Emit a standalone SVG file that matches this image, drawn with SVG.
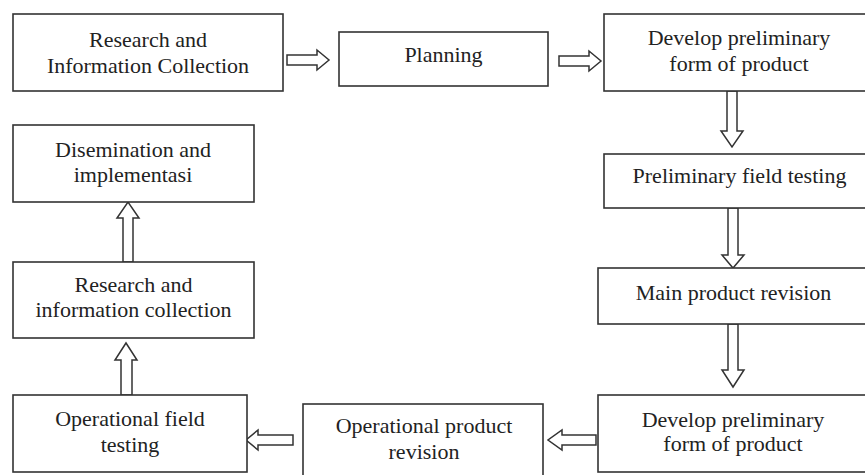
<svg xmlns="http://www.w3.org/2000/svg" width="865" height="475" viewBox="0 0 865 475">
<style>
.box{fill:#fff;stroke:#333;stroke-width:1.6}
.arr{fill:#fff;stroke:#333;stroke-width:1.5;stroke-linejoin:miter}
text{font-family:"Liberation Serif","Times New Roman",serif;font-size:22px;fill:#222;text-anchor:middle}
</style>
<rect width="865" height="475" fill="#fff"/>
<g id="connectors">
<path class="arr" d="M287,55 H317 V50 L329,60 L317,70 V65 H287 Z"/>
<path class="arr" d="M559,56 H589 V51 L601,61 L589,71 V66 H559 Z"/>
<path class="arr" d="M727,91 V131 H721 L732,147 L743,131 H737 V91 Z"/>
<path class="arr" d="M728,208 V255 H722 L733,268 L744,255 H738 V208 Z"/>
<path class="arr" d="M728,324 V370 H722 L733,387 L744,370 H738 V324 Z"/>
<path class="arr" d="M596,435 H562 V430 L548,440 L562,450 V445 H596 Z"/>
<path class="arr" d="M293,435 H258 V430 L246,440 L258,450 V445 H293 Z"/>
<path class="arr" d="M121,395 V360 H115 L126,343 L137,360 H132 V395 Z"/>
<path class="arr" d="M123,262 V218 H117 L128,202 L139,218 H133 V262 Z"/>
</g>
<g id="n1"><rect class="box" x="13" y="14" width="270" height="77"/><text x="148" y="47">Research and</text><text x="148" y="73">Information Collection</text></g>
<g id="n2"><rect class="box" x="339" y="32" width="209" height="54"/><text x="443.5" y="62">Planning</text></g>
<g id="n3"><rect class="box" x="604" y="14" width="270" height="77"/><text x="739" y="45">Develop preliminary</text><text x="739" y="71">form of product</text></g>
<g id="n4"><rect class="box" x="604" y="154" width="270" height="54"/><text x="739.5" y="183">Preliminary field testing</text></g>
<g id="n5"><rect class="box" x="598" y="268" width="270" height="56"/><text x="733.5" y="300">Main product revision</text></g>
<g id="n6"><rect class="box" x="598" y="395" width="270" height="77"/><text x="733" y="427">Develop preliminary</text><text x="733" y="451">form of product</text></g>
<g id="n7"><rect class="box" x="303" y="404" width="240" height="80"/><text x="424" y="433">Operational product</text><text x="424" y="459">revision</text></g>
<g id="n8"><rect class="box" x="13" y="395" width="234" height="77"/><text x="130" y="426">Operational field</text><text x="130" y="452">testing</text></g>
<g id="n9"><rect class="box" x="13" y="262" width="241" height="76"/><text x="133.5" y="292">Research and</text><text x="133.5" y="317">information collection</text></g>
<g id="n10"><rect class="box" x="13" y="125" width="241" height="77"/><text x="133" y="157">Disemination and</text><text x="133" y="182">implementasi</text></g>
</svg>
